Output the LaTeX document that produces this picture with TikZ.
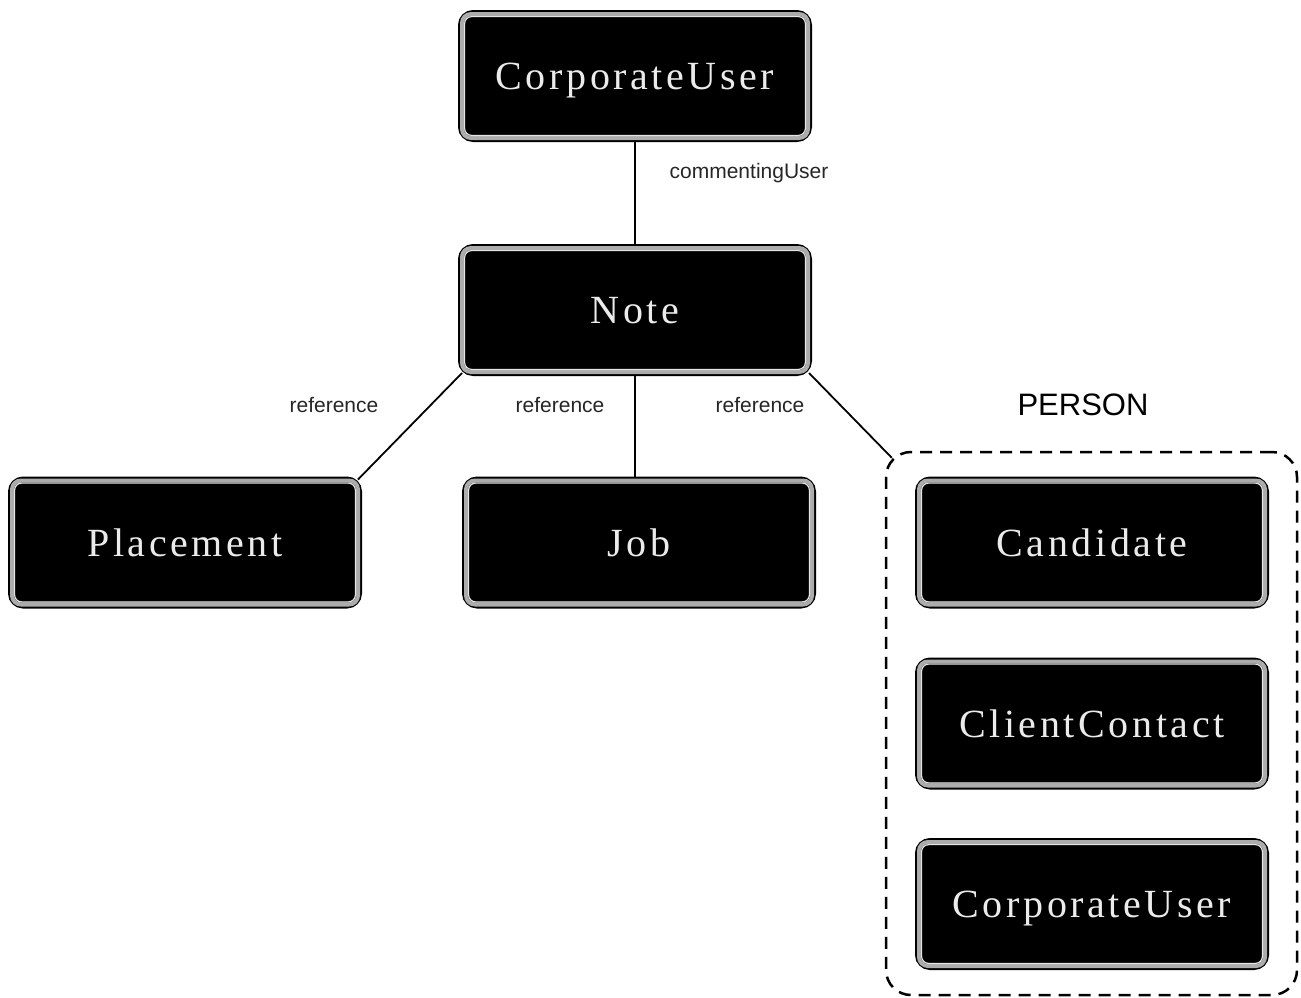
\documentclass[tikz,border=0pt]{standalone}
\usepackage{fontspec}
\newfontfamily\boxfont[LetterSpace=9]{Liberation Serif}
\newfontfamily\labfont{Liberation Sans}
\begin{document}
\begin{tikzpicture}[x=1pt,y=-1pt,
  entity/.style={rectangle, rounded corners=13pt, minimum width=350pt, minimum height=128pt,
    inner sep=0pt, text depth=0pt, fill=black, draw=black, line width=4pt,
    text=white!92!black, font=\boxfont\fontsize{40}{44}\selectfont},
  ringgray/.style={draw=gray!65, line width=4pt, rounded corners=9pt},
  ringwhite/.style={draw=white!90!black, line width=1.2pt, rounded corners=7pt},
  link/.style={draw=black, line width=1.8pt},
  lab/.style={font=\labfont\fontsize{21}{23}\selectfont, text=black!85},
  group/.style={rectangle, draw=black, line width=2.5pt, dash pattern=on 12pt off 8pt, rounded corners=25pt,
    minimum width=411pt, minimum height=543pt, inner sep=0pt}]
\useasboundingbox (0,0) rectangle (1301,997);
\node[group] (person) at (1091.5,723.5) {};
\node[font=\labfont\fontsize{31}{34}\selectfont] (personlab) at (1083,405) {PERSON};
\node[entity] (cu) at (635,76) {CorporateUser};
\node[entity] (note) at (635,310) {Note};
\node[entity] (pl) at (185,542.5) {Placement};
\node[entity] (job) at (639,542.5) {Job};
\node[entity] (cand) at (1092,542.5) {Candidate};
\node[entity] (cc) at (1092,723.5) {ClientContact};
\node[entity] (cu2) at (1092,904) {CorporateUser};
\foreach \n in {cu,note,pl,job,cand,cc,cu2}{
  \draw[ringgray] ([shift={(4,4)}]\n.north west) rectangle ([shift={(-4,-4)}]\n.south east);
  \draw[ringwhite] ([shift={(6.6,6.6)}]\n.north west) rectangle ([shift={(-6.6,-6.6)}]\n.south east);
}
\draw[link] (cu.south) -- (note.south |- note.north);
\draw[link] ([shift={(4,-3)}]note.south west) -- ([shift={(-4,3)}]pl.north east);
\draw[link] (note.south) -- (job.north -| note.south);
\draw[link] ([shift={(-3,-3)}]note.south east) -- ([shift={(7,7)}]person.north west);
\node[lab] (cuser) at (749,173) {commentingUser};
\node[lab] (r1) at (334,405) {reference};
\node[lab] (r2) at (560,405) {reference};
\node[lab] (r3) at (760,405) {reference};
\end{tikzpicture}
\end{document}
